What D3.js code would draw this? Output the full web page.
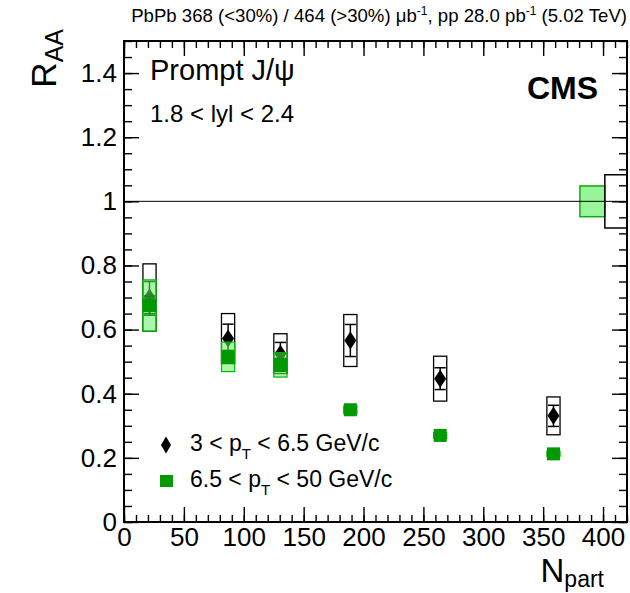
<!DOCTYPE html>
<html>
<head>
<meta charset="utf-8">
<script src="https://cdn.jsdelivr.net/npm/d3@7"></script>
<style>
  body { margin: 0; background: #fff; }
  svg { font-family: "Liberation Sans", Arial, Helvetica, sans-serif; }
</style>
</head>
<body>
<div id="chart"></div>
<script>
// data
var npart = [21.3, 86.9, 130.6, 189, 264, 358.6];
var raaLow = [0.70, 0.572, 0.525, 0.566, 0.447, 0.331];   // 3 < pT < 6.5
var statLow = [0.05, 0.045, 0.035, 0.05, 0.034, 0.033];
var systLow = [0.105, 0.078, 0.062, 0.081, 0.07, 0.059];
var raaHigh = [0.675, 0.515, 0.49, 0.35, 0.27, 0.2125];   // 6.5 < pT < 50
var statHigh = [0.03, 0.02, 0.02, 0.01, 0.008, 0.007];
var systHigh = [0.08, 0.046, 0.038, 0.012, 0.009, 0.008];
var globalUnc = [0.083, 0.048];           // low pT, high pT
var globalX = [[401.5, 420], [380.7, 401.5]];
var xTicks = [0, 50, 100, 150, 200, 250, 300, 350, 400];
var yTicks = [0, 0.2, 0.4, 0.6, 0.8, 1, 1.2, 1.4];

var W = 630, H = 593;
var margin = {left: 124, right: 3, top: 41, bottom: 71};

var svg = d3.select("#chart").append("svg")
    .attr("width", W)
    .attr("height", H);

var x = d3.scaleLinear().domain([0, 420]).range([margin.left, W - margin.right]);
var y = d3.scaleLinear().domain([0, 1.5]).range([H - margin.bottom, margin.top]);

var boxHalf = 5.5;
var green = "#009900";

// Axes: major + minor ticks on all four sides, pointing inward
function styleAxis(g) {
    g.select(".domain").remove();
    g.selectAll("line").attr("stroke", "#000").attr("stroke-width", 1.4);
    g.selectAll("text").attr("font-size", 26).attr("fill", "#000")
        .attr("font-family", "Liberation Sans, Arial, sans-serif");
}

var xMinor = d3.range(0, 421, 10);
var yMinor = d3.range(0, 1.5001, 0.05);

svg.append("g").attr("transform", "translate(0," + y(0) + ")")
    .call(d3.axisBottom(x).tickValues(xTicks).tickSize(-15).tickPadding(6).tickFormat(d3.format("d")))
    .call(styleAxis);
svg.append("g").attr("transform", "translate(0," + y(0) + ")")
    .call(d3.axisBottom(x).tickValues(xMinor).tickSize(-7).tickFormat(""))
    .call(styleAxis);
svg.append("g").attr("transform", "translate(0," + y(1.5) + ")")
    .call(d3.axisTop(x).tickValues(xTicks).tickSize(-15).tickFormat(""))
    .call(styleAxis);
svg.append("g").attr("transform", "translate(0," + y(1.5) + ")")
    .call(d3.axisTop(x).tickValues(xMinor).tickSize(-7).tickFormat(""))
    .call(styleAxis);

svg.append("g").attr("transform", "translate(" + x(0) + ",0)")
    .call(d3.axisLeft(y).tickValues(yTicks).tickSize(-15).tickPadding(7).tickFormat(function(d) { return String(+d.toFixed(1)); }))
    .call(styleAxis);
svg.append("g").attr("transform", "translate(" + x(0) + ",0)")
    .call(d3.axisLeft(y).tickValues(yMinor).tickSize(-8).tickFormat(""))
    .call(styleAxis);
svg.append("g").attr("transform", "translate(" + x(420) + ",0)")
    .call(d3.axisRight(y).tickValues(yTicks).tickSize(-15).tickFormat(""))
    .call(styleAxis);
svg.append("g").attr("transform", "translate(" + x(420) + ",0)")
    .call(d3.axisRight(y).tickValues(yMinor).tickSize(-8).tickFormat(""))
    .call(styleAxis);

// frame
svg.append("rect")
    .attr("x", x(0)).attr("y", y(1.5))
    .attr("width", x(420) - x(0)).attr("height", y(0) - y(1.5))
    .attr("fill", "none").attr("stroke", "#000").attr("stroke-width", 2);

// low pT series: open black syst boxes, error bars, diamonds
var low = npart.map(function(n, i) { return {n: n, v: raaLow[i], st: statLow[i], sy: systLow[i]}; });
var high = npart.map(function(n, i) { return {n: n, v: raaHigh[i], st: statHigh[i], sy: systHigh[i]}; });

svg.selectAll(".systLow").data(low).enter().append("rect")
    .attr("class", "systLow")
    .attr("x", function(d) { return x(d.n - boxHalf); })
    .attr("y", function(d) { return y(d.v + d.sy); })
    .attr("width", function(d) { return x(d.n + boxHalf) - x(d.n - boxHalf); })
    .attr("height", function(d) { return y(d.v - d.sy) - y(d.v + d.sy); })
    .attr("fill", "none").attr("stroke", "#000").attr("stroke-width", 1.3);

function errorBars(data, cls, color) {
    var g = svg.selectAll("." + cls).data(data).enter().append("g").attr("class", cls);
    g.append("line")
        .attr("x1", function(d) { return x(d.n); }).attr("x2", function(d) { return x(d.n); })
        .attr("y1", function(d) { return y(d.v + d.st); }).attr("y2", function(d) { return y(d.v - d.st); })
        .attr("stroke", color).attr("stroke-width", 1.5);
    [1, -1].forEach(function(s) {
        g.append("line")
            .attr("x1", function(d) { return x(d.n - boxHalf) + 1; })
            .attr("x2", function(d) { return x(d.n + boxHalf) - 1; })
            .attr("y1", function(d) { return y(d.v + s * d.st); })
            .attr("y2", function(d) { return y(d.v + s * d.st); })
            .attr("stroke", color).attr("stroke-width", 1.5);
    });
}

errorBars(low, "errLow", "#000");

function diamond(w, h) {
    return "M0," + (-h / 2) + "L" + (w / 2) + ",0L0," + (h / 2) + "L" + (-w / 2) + ",0Z";
}

svg.selectAll(".mLow").data(low).enter().append("path")
    .attr("class", "mLow")
    .attr("d", diamond(12, 18))
    .attr("transform", function(d) { return "translate(" + x(d.n) + "," + y(d.v) + ")"; })
    .attr("fill", "#000");

// high pT series: light green syst boxes, error bars, squares
svg.selectAll(".systHigh").data(high).enter().append("rect")
    .attr("class", "systHigh")
    .attr("x", function(d) { return x(d.n - boxHalf); })
    .attr("y", function(d) { return y(d.v + d.sy); })
    .attr("width", function(d) { return x(d.n + boxHalf) - x(d.n - boxHalf); })
    .attr("height", function(d) { return y(d.v - d.sy) - y(d.v + d.sy); })
    .attr("fill", "#66ee66").attr("fill-opacity", 0.55)
    .attr("stroke", "#00bb00").attr("stroke-width", 1.2);

errorBars(high, "errHigh", green);

svg.selectAll(".mHigh").data(high).enter().append("rect")
    .attr("class", "mHigh")
    .attr("x", function(d) { return x(d.n) - 6.5; })
    .attr("y", function(d) { return y(d.v) - 6.5; })
    .attr("width", 13).attr("height", 13)
    .attr("fill", green);

// global uncertainty boxes at unity
svg.append("rect")
    .attr("x", x(globalX[1][0])).attr("y", y(1 + globalUnc[1]))
    .attr("width", x(globalX[1][1]) - x(globalX[1][0]))
    .attr("height", y(1 - globalUnc[1]) - y(1 + globalUnc[1]))
    .attr("fill", "#99f599").attr("stroke", "#11aa11").attr("stroke-width", 1.5);
svg.append("path")
    .attr("d", "M" + x(globalX[0][1]) + "," + y(1 + globalUnc[0]) +
        "H" + x(globalX[0][0]) + "V" + y(1 - globalUnc[0]) + "H" + x(globalX[0][1]))
    .attr("fill", "none").attr("stroke", "#000").attr("stroke-width", 1.5);

// unity line
svg.append("line")
    .attr("x1", x(0)).attr("x2", x(420))
    .attr("y1", y(1)).attr("y2", y(1))
    .attr("stroke", "#000").attr("stroke-width", 1);

// texts
var title = svg.append("text")
    .attr("x", 627).attr("y", 22)
    .attr("text-anchor", "end").attr("font-size", 18.6);
title.append("tspan").text("PbPb 368 (<30%) / 464 (>30%) \u03bcb");
title.append("tspan").attr("dy", -7).attr("font-size", 12).text("-1");
title.append("tspan").attr("dy", 7).text(", pp 28.0 pb");
title.append("tspan").attr("dy", -7).attr("font-size", 12).text("-1");
title.append("tspan").attr("dy", 7).text(" (5.02 TeV)");

svg.append("text").attr("x", 150).attr("y", 80).attr("font-size", 29).text("Prompt J/\u03c8");
svg.append("text").attr("x", 150).attr("y", 122).attr("font-size", 24).text("1.8 < lyl < 2.4");
svg.append("text").attr("x", 598).attr("y", 99).attr("text-anchor", "end")
    .attr("font-size", 32).attr("font-weight", "bold").text("CMS");

// y title
var yt = svg.append("text")
    .attr("transform", "translate(56,29) rotate(-90)")
    .attr("text-anchor", "end").attr("font-size", 35);
yt.append("tspan").text("R");
yt.append("tspan").attr("dy", 7).attr("font-size", 25).text("AA");

// x title
var xt = svg.append("text")
    .attr("x", 604).attr("y", 582)
    .attr("text-anchor", "end").attr("font-size", 33);
xt.append("tspan").text("N");
xt.append("tspan").attr("dy", 5).attr("font-size", 23).text("part");

// legend
var legend = svg.append("g");
legend.append("path").attr("d", diamond(10, 17))
    .attr("transform", "translate(166,445)").attr("fill", "#000");
legend.append("rect").attr("x", 160).attr("y", 475).attr("width", 13).attr("height", 12).attr("fill", green);

function legendText(yb, a, b) {
    var t = legend.append("text").attr("x", 190).attr("y", yb).attr("font-size", 23);
    t.append("tspan").text(a + " < p");
    t.append("tspan").attr("dy", 8).attr("font-size", 15).text("T");
    t.append("tspan").attr("dy", -8).text(" < " + b + " GeV/c");
}
legendText(451, "3", "6.5");
legendText(487, "6.5", "50");
</script>
</body>
</html>
